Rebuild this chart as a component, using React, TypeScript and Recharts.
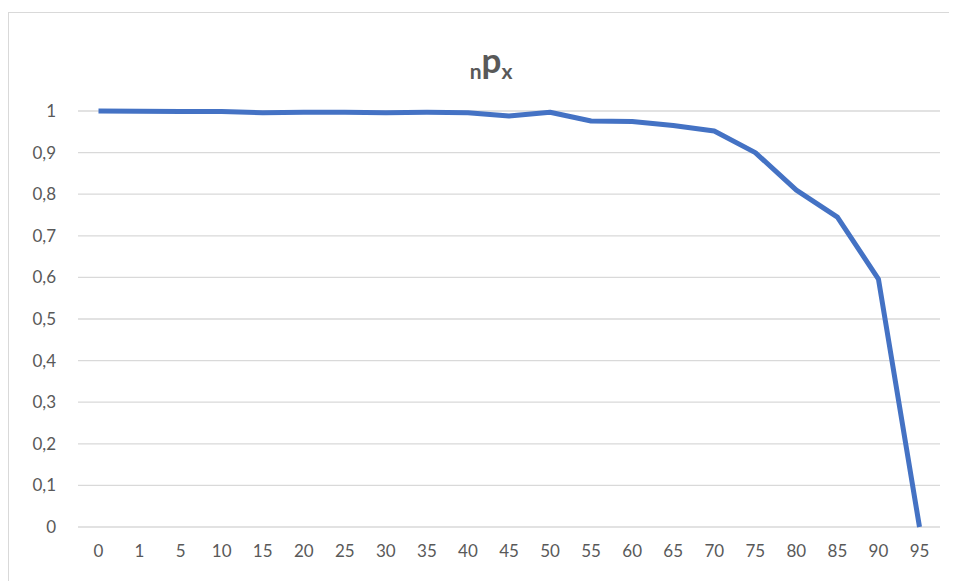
import React from "react";
import { LineChart, Line, XAxis, YAxis, CartesianGrid } from "recharts";

const ages = ["0", "1", "5", "10", "15", "20", "25", "30", "35", "40", "45", "50", "55", "60", "65", "70", "75", "80", "85", "90", "95"];
const npx = [1, 0.9995, 0.999, 0.999, 0.996, 0.997, 0.997, 0.996, 0.997, 0.996, 0.988, 0.997, 0.976, 0.975, 0.965, 0.952, 0.9, 0.81, 0.745, 0.596, 0];
const yTicks = [0, 0.1, 0.2, 0.3, 0.4, 0.5, 0.6, 0.7, 0.8, 0.9, 1];

const data = ages.map((a, i) => ({ age: a, value: npx[i] }));

const FONT = "Lato, 'Open Sans', sans-serif";
const GREY = "#595959";

export default function App() {
  return (
    <div
      style={{
        position: "relative",
        marginTop: 4,
        width: 960,
        height: 580,
        border: "1px solid #d9d9d9",
        background: "#fff",
        fontFamily: FONT,
      }}
    >
      <div
        style={{
          position: "absolute",
          left: 0,
          width: 964,
          top: 29,
          textAlign: "center",
          color: GREY,
          fontWeight: 700,
          whiteSpace: "nowrap",
          lineHeight: 1,
        }}
      >
        <span style={{ fontSize: 21, position: "relative", top: 6 }}>n</span>
        <span style={{ fontSize: 35 }}>p</span>
        <span style={{ fontSize: 21, position: "relative", top: 6 }}>x</span>
      </div>
      <LineChart
        width={940}
        height={570}
        data={data}
        margin={{ top: 98, right: 9, bottom: 0, left: 9 }}
        style={{ position: "absolute", left: 0, top: 0 }}
      >
        <CartesianGrid horizontal vertical={false} stroke="#d9d9d9" strokeWidth={1.3} />
        <XAxis
          dataKey="age"
          axisLine={false}
          tickLine={false}
          tickSize={0}
          tickMargin={18}
          height={56}
          interval={0}
          padding={{ left: 20.5, right: 20.5 }}
          tick={{ fill: GREY, fontSize: 17, fontFamily: FONT }}
        />
        <YAxis
          type="number"
          domain={[0, 1]}
          ticks={yTicks}
          axisLine={false}
          tickLine={false}
          tickSize={0}
          tickMargin={22}
          width={60}
          interval={0}
          tickFormatter={(v: number) => String(Math.round(v * 10) / 10).replace(".", ",")}
          tick={{ fill: GREY, fontSize: 17, fontFamily: FONT }}
        />
        <Line
          type="linear"
          dataKey="value"
          stroke="#4472C4"
          strokeWidth={5}
          dot={false}
          activeDot={false}
          strokeLinejoin="round"
          isAnimationActive={false}
        />
      </LineChart>
    </div>
  );
}
